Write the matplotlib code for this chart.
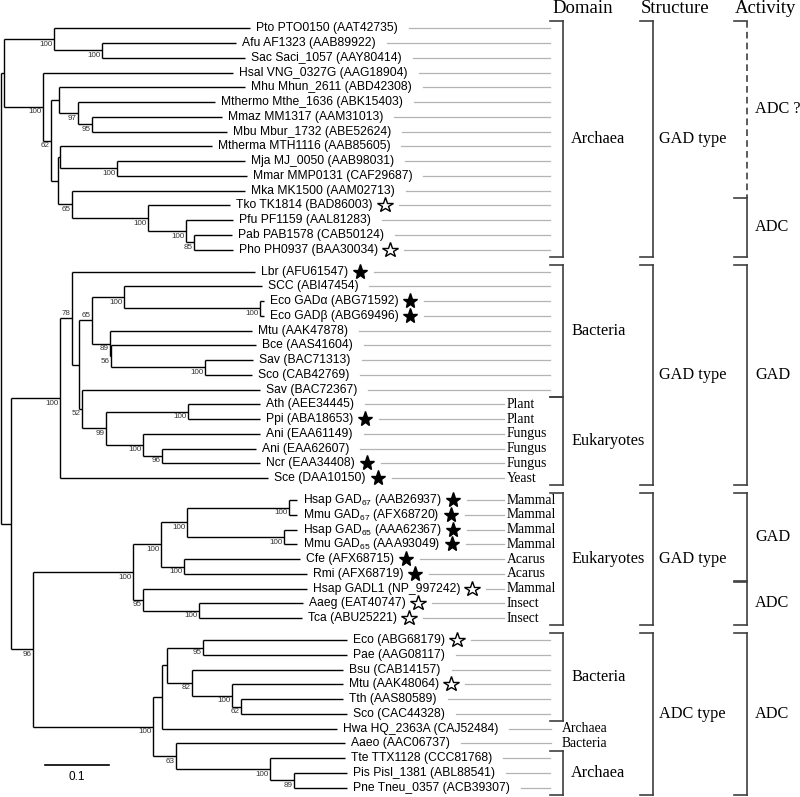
import matplotlib
matplotlib.use('Agg')
import matplotlib.pyplot as plt

plt.rcParams['font.family'] = ['Liberation Sans', 'DejaVu Sans']
plt.rcParams['mathtext.fontset'] = 'custom'
plt.rcParams['mathtext.rm'] = 'Liberation Sans'
plt.rcParams['mathtext.default'] = 'regular'

# leaf names, top to bottom (index used in the newick string)
names = [
    "Pto PTO0150 (AAT42735)", "Afu AF1323 (AAB89922)", "Sac Saci_1057 (AAY80414)",
    "Hsal VNG_0327G (AAG18904)", "Mhu Mhun_2611 (ABD42308)", "Mthermo Mthe_1636 (ABK15403)",
    "Mmaz MM1317 (AAM31013)", "Mbu Mbur_1732 (ABE52624)", "Mtherma MTH1116 (AAB85605)",
    "Mja MJ_0050 (AAB98031)", "Mmar MMP0131 (CAF29687)", "Mka MK1500 (AAM02713)",
    "Tko TK1814 (BAD86003)", "Pfu PF1159 (AAL81283)", "Pab PAB1578 (CAB50124)",
    "Pho PH0937 (BAA30034)",
    "Lbr (AFU61547)", "SCC (ABI47454)", "Eco GADα (ABG71592)", "Eco GADβ (ABG69496)",
    "Mtu (AAK47878)", "Bce (AAS41604)", "Sav (BAC71313)", "Sco (CAB42769)", "Sav (BAC72367)",
    "Ath (AEE34445)", "Ppi (ABA18653)", "Ani (EAA61149)", "Ani (EAA62607)", "Ncr (EAA34408)",
    "Sce (DAA10150)",
    "Hsap GAD$_{67}$ (AAB26937)", "Mmu GAD$_{67}$ (AFX68720)", "Hsap GAD$_{65}$ (AAA62367)",
    "Mmu GAD$_{65}$ (AAA93049)", "Cfe (AFX68715)", "Rmi (AFX68719)", "Hsap GADL1 (NP_997242)",
    "Aaeg (EAT40747)", "Tca (ABU25221)",
    "Eco (ABG68179)", "Pae (AAG08117)", "Bsu (CAB14157)", "Mtu (AAK48064)", "Tth (AAS80589)",
    "Sco (CAC44328)", "Hwa HQ_2363A (CAJ52484)", "Aaeo (AAC06737)", "Tte TTX1128 (CCC81768)",
    "Pis Pisl_1381 (ABL88541)", "Pne Tneu_0357 (ACB39307)",
]
# f = filled star, o = open star
stars = ["", "", "", "", "", "", "", "", "", "", "", "", "o", "", "", "o",
         "f", "", "f", "f", "", "", "", "", "", "", "f", "", "", "f", "f",
         "f", "f", "f", "f", "f", "f", "o", "o", "o",
         "o", "", "", "o", "", "", "", "", "", "", ""]
sub_idx = [25, 26, 27, 28, 29, 30, 31, 32, 33, 34, 35, 36, 37, 38, 39, 46, 47]
sub_txt = ["Plant", "Plant", "Fungus", "Fungus", "Fungus", "Yeast", "Mammal", "Mammal",
           "Mammal", "Mammal", "Acarus", "Acarus", "Mammal", "Insect", "Insect",
           "Archaea", "Bacteria"]
gap_after = [15, 30, 39]

# tree, branch lengths in substitutions/site, bootstrap as node labels
archaea_top = "(0:0.3072,(1:0.2116,2:0.2250)100:0.0744)100:0.0790"
mhu = "(4:0.2915,(5:0.2155,(6:0.2036,7:0.2115)95:0.0224)97:0.0289):0.0135"
mka = ("((8:0.2381,(9:0.2014,10:0.2041)100:0.0890):0.0027,"
       "(11:0.2721,(12:0.1283,(13:0.0743,(14:0.0587,15:0.0612)85:0.0130)100:0.0592)100:0.1203)65:0.0210):0.0119")
archaea = "(" + archaea_top + ",(3:0.2983,(" + mhu + "," + mka + ")62:0.0116)100:0.0617):0.0047"
bact_gad = ("((17:0.2157,(18:0.0055,19:0.0055)100:0.2130)100:0.0502,"
            "(20:0.2224,(21:0.2276,(22:0.0758,23:0.0733)100:0.1476)56:0.0016)89:0.0278)65:0.0209")
euk_gad = ("(24:0.2790,((25:0.1126,26:0.1126)100:0.1297,"
           "(27:0.1832,(28:0.1471,29:0.1534)96:0.0298)100:0.0590)99:0.0367)52:0.0052")
gad = "((16:0.2878,(" + bact_gad + "," + euk_gad + "):0.0115)78:0.0184,30:0.3270)100:0.0769"
animal = ("((((31:0.0116,32:0.0116)100:0.1611,(33:0.0195,34:0.0195)100:0.1532)100:0.0403,"
          "(35:0.1816,36:0.1922)100:0.0366)100:0.0435,(37:0.2565,(38:0.1637,39:0.1612)100:0.0874)95:0.0157)100:0.1570")
adc = ("((((40:0.2251,41:0.2251)95:0.0575,(42:0.2380,(43:0.1747,(44:0.1606,45:0.1659)62:0.0141)100:0.0633)82:0.0392):0.0078,"
       "46:0.2747):0.0132,(47:0.2648,(48:0.1177,(49:0.0823,50:0.0823)89:0.0381)100:0.1471)63:0.0361)100:0.1884")
newick = "(" + archaea + ",(" + gad + ",(" + animal + "," + adc + ")96:0.0350):0.0157);"
support_above = [(16, "78"), (17, "65")]

domain_groups = [("Archaea", 0, 15), ("Bacteria", 16, 24), ("Eukaryotes", 25, 30),
                 ("Eukaryotes", 31, 39), ("Bacteria", 40, 45), ("Archaea", 48, 50)]
structure_groups = [("GAD type", 0, 15), ("GAD type", 16, 30), ("GAD type", 31, 39), ("ADC type", 40, 50)]
activity_groups = [("ADC ?", 0, 11), ("ADC", 12, 15), ("GAD", 16, 30), ("GAD", 31, 36),
                   ("ADC", 37, 39), ("ADC", 40, 50)]


def parse(s):
    pos = 0

    def node():
        nonlocal pos
        n = {'children': [], 'label': '', 'length': 0.0}
        if s[pos] == '(':
            pos += 1
            n['children'].append(node())
            while s[pos] == ',':
                pos += 1
                n['children'].append(node())
            pos += 1
        start = pos
        while s[pos] not in ':,);':
            pos += 1
        n['label'] = s[start:pos]
        if s[pos] == ':':
            pos += 1
            start = pos
            while s[pos] not in ',);':
                pos += 1
            n['length'] = float(s[start:pos])
        return n
    return node()


X0 = 1.0
PX = 637.0  # pixels per unit of branch length
leaf_y = [28.3 + 14.75 * i + 7.3 * sum(i > g for g in gap_after) for i in range(len(names))]


def layout(n, depth):
    n['x'] = X0 + depth * PX
    if n['children']:
        for c in n['children']:
            layout(c, depth + c['length'])
        n['y'] = (n['children'][0]['y'] + n['children'][-1]['y']) / 2
        n['first'] = n['children'][0]['first']
    else:
        n['first'] = int(n['label'])
        n['y'] = leaf_y[n['first']]


tree = parse(newick)
layout(tree, 0.0)

fig = plt.figure(figsize=(8, 7.97), dpi=100)
ax = fig.add_axes([0, 0, 1, 1])
ax.set_xlim(0, 800)
ax.set_ylim(797, 0)
ax.axis('off')

tips = {}
def draw(n):
    if not n['children']:
        tips[int(n['label'])] = n['x']
        return
    ys = [c['y'] for c in n['children']]
    ax.plot([n['x'], n['x']], [min(ys), max(ys)], color='black', lw=1.0, solid_capstyle='butt')
    for c in n['children']:
        ax.plot([n['x'], c['x']], [c['y'], c['y']], color='black', lw=1.0, solid_capstyle='butt')
        draw(c)
    if n['label']:
        if (n['first'], n['label']) in support_above:
            ax.text(n['x'] - 1.5, n['y'] - 1, n['label'], fontsize=5.8, color='#333333',
                    ha='right', va='bottom')
        else:
            ax.text(n['x'] - 1.5, n['y'] + 1.5, n['label'], fontsize=5.8, color='#333333',
                    ha='right', va='top')

draw(tree)

labels = []
for i, nm in enumerate(names):
    labels.append(ax.text(tips[i] + 6, leaf_y[i], nm, fontsize=8.7, ha='left', va='center'))

fig.canvas.draw()
renderer = fig.canvas.get_renderer()

in_domain = set()
for _, a, b in domain_groups:
    in_domain.update(range(a, b + 1))

for i, t in enumerate(labels):
    x_end = t.get_window_extent(renderer).x1
    y = leaf_y[i]
    if stars[i] == 'f':
        ax.plot(x_end + 12, y, marker='*', ms=11, color='black', mec='black')
        x_start = x_end + 26
    elif stars[i] == 'o':
        ax.plot(x_end + 12, y, marker='*', ms=11.5, mfc='white', mec='black', mew=1.0)
        x_start = x_end + 26
    else:
        x_start = x_end + 11
    if i in sub_idx:
        x_stop = 504 if i in in_domain else 551
    else:
        x_stop = 550
    ax.plot([x_start, x_stop], [y, y], color='#b4b4b4', lw=0.9)

for i, txt in zip(sub_idx, sub_txt):
    sx = 507 if i in in_domain else 562
    ax.text(sx, leaf_y[i], txt, family='Liberation Serif', fontsize=9.8, ha='left', va='center')


def brackets(groups, xc, xlab, size, dashed_mark=None):
    prev_dashed_end = None
    for lab, a, b in groups:
        top = leaf_y[a] - 7
        bot = leaf_y[b] + 7
        dashed = dashed_mark is not None and lab.endswith(dashed_mark)
        ls = (0, (4, 2.5)) if dashed else '-'
        ax.plot([xc, xc], [top, bot], color='#404040', lw=1.2, ls=ls)
        if prev_dashed_end is None or abs(prev_dashed_end - top) > 0.5:
            ax.plot([xc - 13, xc], [top, top], color='#404040', lw=1.2)
        if not dashed:
            ax.plot([xc - 13, xc], [bot, bot], color='#404040', lw=1.2)
        prev_dashed_end = bot if dashed else None
        ax.text(xlab, (top + bot) / 2, lab, family='Liberation Serif', fontsize=size,
                ha='left', va='center')


brackets(domain_groups, 562.7, 571, 11.7)
brackets(structure_groups, 653.3, 659, 11.7)
brackets(activity_groups, 746.7, 755, 11.7, dashed_mark='?')

for lab, hx in [("Domain", 552), ("Structure", 641), ("Activity", 735)]:
    ax.text(hx, 8, lab, family='Liberation Serif', fontsize=13.5, ha='left', va='center')

# scale bar
ax.plot([45, 45 + 0.1 * PX], [765, 765], color='black', lw=1.2)
ax.text(45 + 0.05 * PX, 777, "0.1", fontsize=8.5, ha='center', va='center')

fig.savefig('out.png', dpi=100)
